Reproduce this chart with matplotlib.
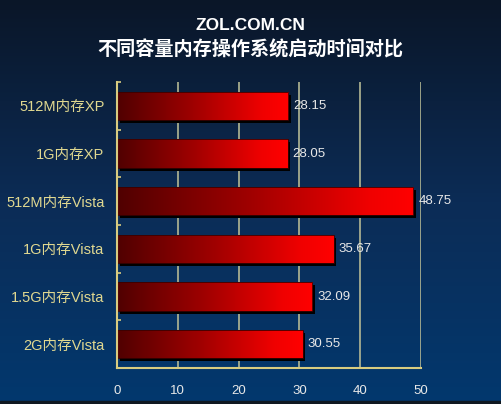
import numpy as np
import matplotlib
matplotlib.use("Agg")
import matplotlib.pyplot as plt
from matplotlib.colors import LinearSegmentedColormap, to_rgb
from matplotlib.patches import Rectangle
import matplotlib.transforms as mtransforms

plt.rcParams['font.family'] = ['Liberation Sans', 'Noto Sans CJK SC', 'DejaVu Sans']

title_en = "ZOL.COM.CN"
title_cn = "不同容量内存操作系统启动时间对比"
categories = ["512M内存XP", "1G内存XP", "512M内存Vista", "1G内存Vista", "1.5G内存Vista", "2G内存Vista"]
values = [28.15, 28.05, 48.75, 35.67, 32.09, 30.55]
xticks = [0, 10, 20, 30, 40, 50]

W, H = 501, 404
fig = plt.figure(figsize=(W / 100, H / 100), dpi=100)

# background gradient
bg = fig.add_axes([0, 0, 1, 1], zorder=-10)
bg.set_axis_off()
top_c = np.array(to_rgb("#0a1628"))
mid_c = np.array(to_rgb("#0c2c56"))
bot_c = np.array(to_rgb("#02386e"))
t = np.linspace(0, 1, 256)[:, None]
grad = np.where(t < 0.5, top_c + (mid_c - top_c) * (t / 0.5), mid_c + (bot_c - mid_c) * ((t - 0.5) / 0.5))
bg.imshow(grad[:, None, :].repeat(2, axis=1), aspect='auto', extent=[0, 1, 0, 1], origin='upper')
bg.set_xlim(0, 1); bg.set_ylim(0, 1)
bg.add_patch(Rectangle((0, 0), 1, 3 / H, color="#101820", transform=bg.transAxes))

ax = fig.add_axes([117 / W, (H - 368) / H, (421 - 117) / W, (368 - 82) / H])
ax.patch.set_alpha(0)

y = np.arange(len(categories))
h = 0.59
cmap = LinearSegmentedColormap.from_list("r", [(0, "#500000"), (0.45, "#a00000"), (0.85, "#f00000"), (1, "#ff0000")])

shadow_tr = ax.transData + mtransforms.ScaledTranslation(2.5 / 100, -3 / 100, fig.dpi_scale_trans)
ax.barh(y, values, height=h, color="black", transform=shadow_tr, zorder=3)
bars = ax.barh(y, values, height=h, color="none", edgecolor="#3a0000", linewidth=0.6, zorder=5)
gimg = np.linspace(0, 1, 256)[None, :]
for b, v in zip(bars, values):
    x0, y0 = b.get_x(), b.get_y()
    im = ax.imshow(gimg, cmap=cmap, aspect='auto', extent=[x0, x0 + v, y0 + h, y0],
                   zorder=4, interpolation='bicubic')
    im.set_clip_path(b)
    ax.text(v, b.get_y() + h / 2, f"{v:.2f}", color="#e8e8e8", fontsize=9.5,
            va='center', ha='left', zorder=6,
            transform=ax.transData + mtransforms.ScaledTranslation(5 / 100, 0, fig.dpi_scale_trans))

ax.set_xlim(0, 50)
ax.set_ylim(len(categories) - 0.5, -0.5)
ax.set_xticks(xticks)
ax.set_xticklabels([str(v) for v in xticks], color="#e8e8e8", fontsize=9.5)
ax.set_yticks(y)
ax.set_yticklabels(categories, color="#e0d890", fontsize=10.5)
ax.tick_params(axis='y', length=0, pad=9)
ax.tick_params(axis='x', length=0, pad=12)
ax.set_yticks(np.arange(-0.5, len(categories)), minor=True)
ax.tick_params(axis='y', which='minor', direction='in', length=3, color="#d8cc80", width=1.2)

for xv in xticks[1:]:
    ax.axvline(xv, color="#b4b894", linewidth=1.2, zorder=1)

for s in ['top', 'right']:
    ax.spines[s].set_visible(False)
for s in ['left', 'bottom']:
    ax.spines[s].set_color("#d8cc80")
    ax.spines[s].set_linewidth(1.5)
    ax.spines[s].set_zorder(7)

fig.text(0.5, 1 - 25 / H, title_en, color="white", fontsize=12.5, fontweight='bold',
         ha='center', va='center', family=['Liberation Sans', 'DejaVu Sans'])
fig.text(0.5, 1 - 50 / H, title_cn, color="white", fontsize=13.8, fontweight='bold',
         ha='center', va='center', family=['Noto Sans CJK SC', 'DejaVu Sans'])

fig.savefig("out.png", dpi=100)
